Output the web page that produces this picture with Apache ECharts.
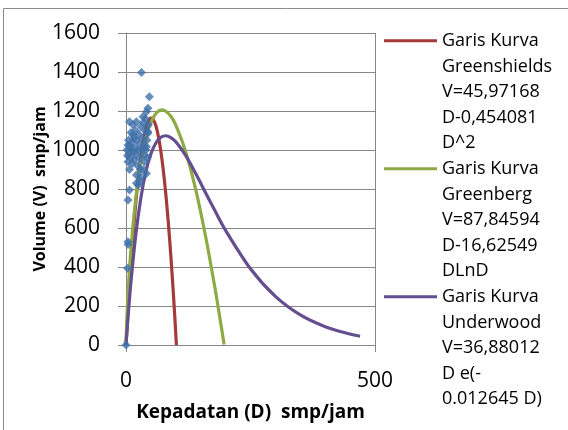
<!DOCTYPE html>
<html>
<head>
<meta charset="utf-8">
<script src="https://cdn.jsdelivr.net/npm/echarts@6/dist/echarts.min.js"></script>
<style>
html, body { margin: 0; padding: 0; background: #fff; }
#chart { width: 568px; height: 430px; }
</style>
</head>
<body>
<div id="chart"></div>
<script>
// observed points: density D (smp/km) and volume V (smp/jam)
var obsDensity = [0, 3, 4, 4, 4, 7, 4, 4, 7, 14, 21, 34, 41, 44, 47, 31, 14, 44, 44, 41, 37, 37, 41, 21, 21, 25, 7,
    2, 3, 5, 6, 8, 9, 10, 11, 12, 13, 15, 16, 17, 18, 19, 20, 22, 23, 24, 26, 27, 28, 29, 30, 32, 33, 35, 36, 38, 39, 40, 42, 43, 45, 35, 30, 28];
var obsVolume = [0, 393, 515, 530, 744, 795, 940, 1026, 1145, 1130, 1145, 1171, 1196, 1214, 1273, 1398, 1077, 1094, 1086, 1017, 974, 940, 880, 872, 829, 820, 900,
    1000, 970, 1050, 980, 1020, 960, 1090, 1000, 930, 1040, 990, 1060, 950, 1010, 1100, 980, 1050, 920, 1000, 1080, 960, 1030, 900, 1120, 1000, 1060, 1140, 1020, 1100, 1160, 1000, 1050, 960, 1130, 900, 860, 840];

// fitted curves
var shieldsD = [0, 5, 10, 20, 30, 40, 45, 50, 55, 60, 65, 70, 75, 80, 85, 90, 95, 98, 101.2];
var shieldsV = [0, 218, 414, 738, 971, 1112, 1149, 1163, 1155, 1124, 1070, 993, 894, 772, 627, 459, 269, 144, 0];

var bergD = [0, 0.5, 1, 2, 5, 10, 20, 30, 40, 50, 60, 72, 80, 90, 100, 120, 140, 160, 180, 190, 197];
var bergV = [0, 50, 88, 153, 305, 496, 761, 939, 1061, 1140, 1187, 1206, 1199, 1173, 1128, 990, 797, 555, 272, 116, 2];

var woodD = [0, 5, 10, 20, 30, 40, 50, 60, 70, 80, 90, 100, 120, 140, 160, 180, 200, 250, 300, 350, 400, 450, 470];
var woodV = [0, 173, 325, 573, 757, 890, 980, 1036, 1065, 1073, 1064, 1042, 971, 879, 780, 682, 588, 391, 249, 154, 94, 56, 45];

var curveNames = [
    'Garis Kurva\nGreenshields\nV=45,97168\nD-0,454081\nD^2',
    'Garis Kurva\nGreenberg\nV=87,84594\nD-16,62549\nDLnD',
    'Garis Kurva\nUnderwood\nV=36,88012\nD e(-\n0.012645 D)'
];
var curveColors = ['#A43A3A', '#8DAA45', '#654E8E'];

var xTicks = { min: 0, max: 500, interval: 500 };
var yTicks = { min: 0, max: 1600, interval: 200 };

function pairs(xs, ys) {
    return xs.map(function (x, i) { return [x, ys[i]]; });
}

var chart = echarts.init(document.getElementById('chart'));

var lineH = 25.6;
var boxH = lineH * 5;
// legend marker: a short line on the first text row, box padded to the full entry height
var markerPath = 'path://M0,' + (lineH / 2 - 1.5) + 'H53V' + (lineH / 2 + 1.5) + 'H0Z' +
    'M0,0H0.05V0.05H0Z' + 'M52.95,' + (boxH - 0.05) + 'H53V' + boxH + 'H52.95Z';

function curve(i, xs, ys) {
    return {
        name: curveNames[i],
        type: 'line',
        data: pairs(xs, ys),
        smooth: 0.3,
        showSymbol: false,
        symbol: 'none',
        color: curveColors[i],
        lineStyle: { color: curveColors[i], width: 3.2 },
        z: 2
    };
}

var labelFont = { fontFamily: 'Open Sans', fontSize: 21, color: '#000' };
var plain = function (v) { return String(v); };

var option = {
    animation: false,
    backgroundColor: '#fff',
    grid: { left: 126, right: 193, top: 33, bottom: 85, outerBoundsMode: 'none' },
    legend: {
        orient: 'vertical',
        left: 384,
        top: 28,
        padding: 0,
        itemGap: 0,
        itemWidth: 53,
        itemHeight: boxH,
        icon: markerPath,
        data: curveNames,
        textStyle: { fontFamily: 'Open Sans', fontSize: 18, color: '#000', lineHeight: lineH }
    },
    xAxis: {
        type: 'value',
        min: xTicks.min, max: xTicks.max, interval: xTicks.interval,
        name: 'Kepadatan (D)  smp/jam',
        nameLocation: 'middle',
        nameGap: 58,
        nameTextStyle: { fontFamily: 'Open Sans', fontWeight: 'bold', fontSize: 19, color: '#000' },
        axisLine: { show: true, lineStyle: { color: '#868686', width: 1 } },
        axisTick: { show: true, length: 7, lineStyle: { color: '#868686' } },
        axisLabel: Object.assign({ margin: 26, formatter: plain }, labelFont),
        splitLine: { show: true, lineStyle: { color: '#868686', width: 1 } }
    },
    yAxis: {
        type: 'value',
        min: yTicks.min, max: yTicks.max, interval: yTicks.interval,
        name: 'Volume (V)  smp/jam',
        nameLocation: 'middle',
        nameRotate: 90,
        nameGap: 72,
        nameTextStyle: { fontFamily: 'Open Sans', fontWeight: 'bold', fontSize: 16, color: '#000' },
        axisLine: { show: true, lineStyle: { color: '#868686', width: 1 } },
        axisTick: { show: true, length: 8, lineStyle: { color: '#868686' } },
        axisLabel: Object.assign({ margin: 26, formatter: plain }, labelFont),
        splitLine: { show: true, lineStyle: { color: '#868686', width: 1 } }
    },
    graphic: [{
        type: 'rect',
        shape: { x: 3.5, y: 8.5, width: 700, height: 600 },
        style: { fill: 'none', stroke: '#8c8c8c', lineWidth: 1 },
        silent: true
    }],
    series: [
        curve(0, shieldsD, shieldsV),
        curve(1, bergD, bergV),
        curve(2, woodD, woodV),
        {
            name: 'Data',
            type: 'scatter',
            data: pairs(obsDensity, obsVolume),
            symbol: 'diamond',
            symbolSize: 9,
            itemStyle: { color: '#3E6FA9' },
            z: 3
        }
    ]
};

chart.setOption(option);
</script>
</body>
</html>
